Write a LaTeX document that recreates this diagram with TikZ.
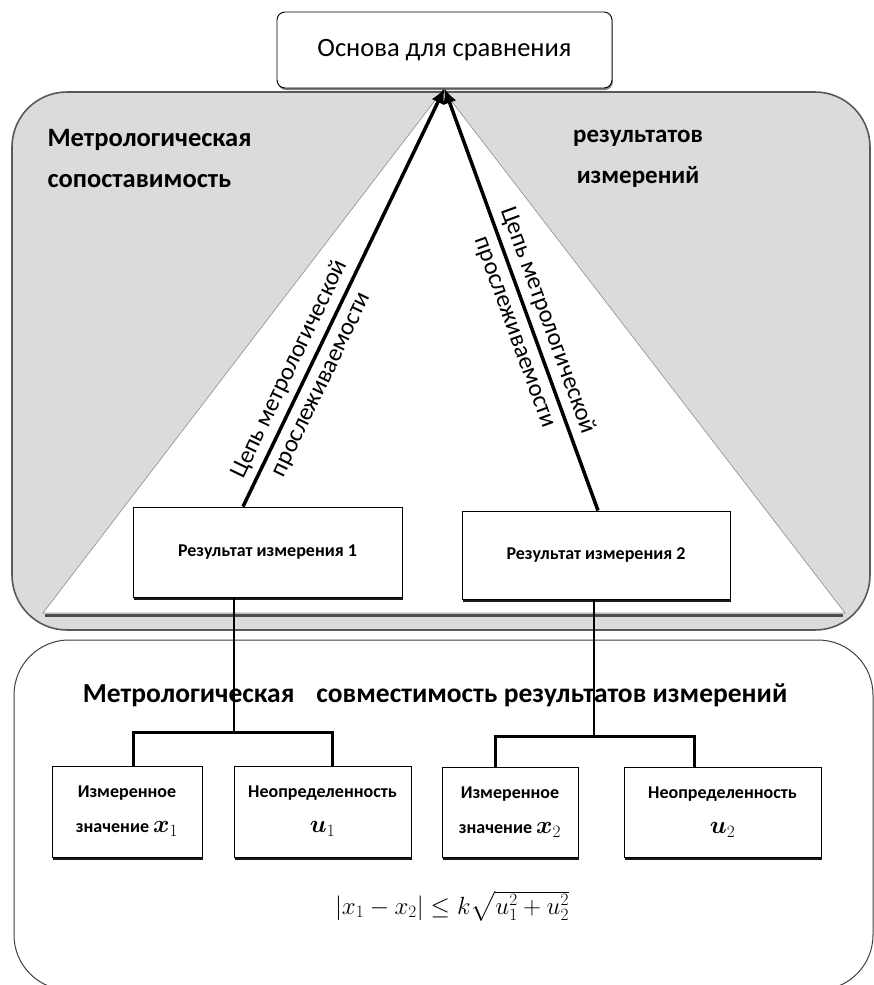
\documentclass[tikz,border=0pt]{standalone}
\usepackage{amsmath,bm}
\usepackage[no-math]{fontspec}
\setmainfont{Carlito}
\usetikzlibrary{arrows.meta,shadows}
\begin{document}
\begin{tikzpicture}[x=1pt,y=-1pt,
  sh/.style={drop shadow={shadow xshift=0.8pt,shadow yshift=-3pt,fill=black,opacity=0.9}},
  shg/.style={drop shadow={shadow xshift=0.8pt,shadow yshift=-2pt,fill=black,opacity=0.5}},
  rbox/.style={draw=black,line width=0.9pt,fill=white,inner sep=0pt},
  boxtxt/.style={font=\bfseries\fontsize{18}{22}\selectfont},
  smalltxt/.style={font=\bfseries\fontsize{18}{35}\selectfont,align=center},
  bigtxt/.style={font=\bfseries\fontsize{26.5}{41}\selectfont},
  lbl/.style={sloped,align=center,font=\fontsize{24.5}{35}\selectfont},
  arr/.style={line width=3.5pt,-{Latex[length=15pt,width=14pt]}},
  conn/.style={line width=2pt},
  conn2/.style={line width=3pt}]
\useasboundingbox (0,0) rectangle (874,985);
\clip (0,0) rectangle (874,985);
% comparability container
\node[draw=black!65,line width=1.6pt,fill=black!14,rounded corners=55pt,
  minimum width=858pt,minimum height=538pt,inner sep=0pt] (cmp) at (441,361) {};
\draw[line width=3pt,black!70] (45,615.5) -- (843,615.5);
\draw[fill=white,draw=black!45,line width=0.6pt] (43,613) -- (443,90) -- (845,613) -- cycle;
% compatibility container
\node[draw=black!75,line width=1pt,fill=white,rounded corners=55pt,
  minimum width=859pt,minimum height=350pt,inner sep=0pt] (cmpt) at (443.5,815) {};
% base box
\node[rbox,shg,rounded corners=8pt,minimum width=335pt,minimum height=76pt,
  font=\fontsize{26.5}{30}\selectfont] (base) at (444.5,50) {Основа для сравнения};
% titles
\node[bigtxt,align=left,anchor=west] (tl) at (44,159) {Метрологическая\\сопоставимость};
\node[bigtxt,align=center,font=\bfseries\fontsize{25}{41}\selectfont] (tr) at (638,159) {результатов\\измерений};
\node[bigtxt,font=\bfseries\fontsize{27.5}{32}\selectfont] (hd) at (435,695) {Метрологическая\hspace{0.8em}совместимость результатов измерений};
% results
\node[rbox,sh,boxtxt,minimum width=269pt,minimum height=90pt] (r1) at (267.5,552) {Результат измерения 1};
\node[rbox,sh,boxtxt,minimum width=268pt,minimum height=88pt] (r2) at (596,555) {Результат измерения 2};
% lower boxes
\node[rbox,sh,smalltxt,minimum width=150pt,minimum height=91pt] (x1) at (127,811.5)
  {Измеренное\\значение {\fontsize{25}{35}\selectfont$\bm{x}_1$}};
\node[rbox,sh,smalltxt,minimum width=177pt,minimum height=91pt] (u1) at (322.5,811.5)
  {Неопределенность\\{\fontsize{25}{35}\selectfont$\bm{u}_1$}};
\node[rbox,sh,smalltxt,minimum width=136pt,minimum height=90pt] (x2) at (510,812)
  {Измеренное\\значение {\fontsize{25}{35}\selectfont$\bm{x}_2$}};
\node[rbox,sh,smalltxt,minimum width=197pt,minimum height=90pt] (u2) at (722.5,812)
  {Неопределенность\\{\fontsize{25}{35}\selectfont$\bm{u}_2$}};
% formula
\node[font=\fontsize{24}{28}\selectfont] (fm) at (452,906) {$|x_1-x_2|\le k\sqrt{u_1^2+u_2^2}$};
% connectors
\coordinate (j1) at (234,732);
\coordinate (j2) at (594,736);
\draw[conn] (r1.south -| j1) -- (j1);
\draw[conn2] ([xshift=6pt]x1.north) |- (j1) -| ([xshift=9.5pt]u1.north);
\draw[conn] (r2.south -| j2) -- (j2);
\draw[conn2] ([xshift=-15pt]x2.north) |- (j2) -| ([xshift=-28.5pt]u2.north);
% traceability chains
\draw[arr] ([xshift=-24.5pt]r1.north) -- (base.south)
  node[lbl,pos=0.31] {Цепь метрологической\\прослеживаемости};
\draw[arr] ([xshift=2pt]r2.north) -- (base.south)
  node[lbl,pos=0.436] {Цепь метрологической\\прослеживаемости};
\end{tikzpicture}
\end{document}
